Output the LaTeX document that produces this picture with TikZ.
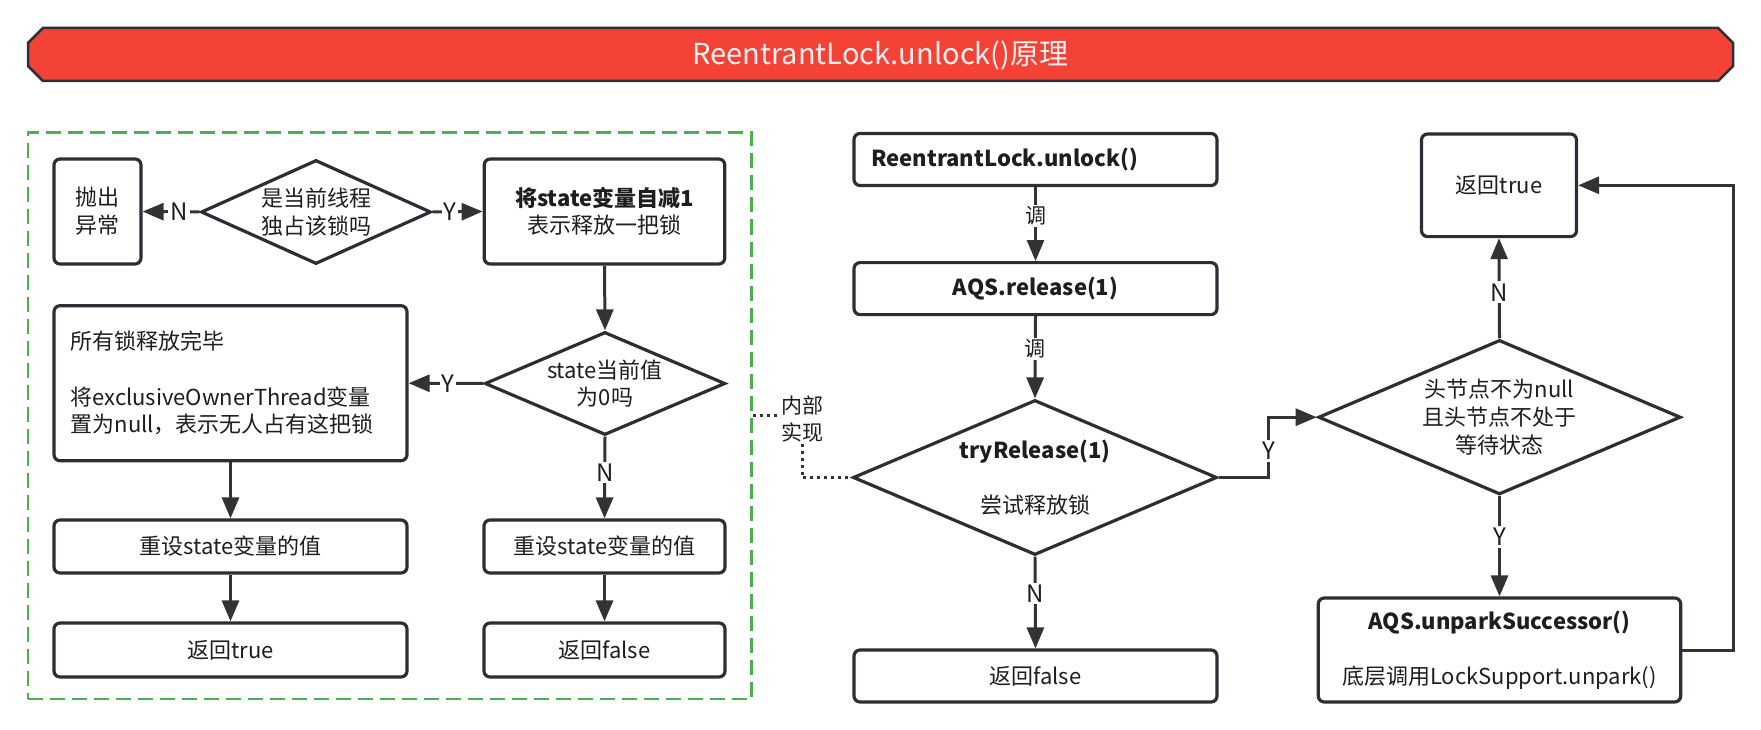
\documentclass[tikz,border=0pt]{standalone}
\usepackage{fontspec}
\setmainfont{Noto Sans CJK SC}
\usetikzlibrary{arrows.meta,shapes.geometric,calc}
\definecolor{bordc}{HTML}{2B2F35}
\definecolor{arrc}{HTML}{333333}
\definecolor{grn}{HTML}{4CAF50}
\definecolor{bannerred}{HTML}{F44336}
\definecolor{bannerline}{HTML}{263238}
\definecolor{txtc}{HTML}{1E1E1E}
\begin{document}
\begin{tikzpicture}[x=1pt,y=-1pt,
  every node/.style={font=\fontsize{22}{27.7}\selectfont, text=txtc},
  box/.style={draw=bordc, line width=3.2pt, rounded corners=6pt, fill=white, inner sep=0pt, align=center},
  dia/.style={diamond, draw=bordc, line width=3.2pt, fill=white, inner sep=0pt, align=center},
  conn/.style={draw=arrc, line width=3pt, -{Triangle[length=21pt,width=17pt]}},
  lab/.style={fill=white, inner sep=2pt, font=\fontsize{24}{26}\selectfont},
  cjklab/.style={fill=white, inner sep=2pt, font=\fontsize{21}{24}\selectfont},
  dotline/.style={draw=arrc, line width=3pt, dash pattern=on 3pt off 4pt},
  grpbox/.style={draw=grn, line width=2.5pt, dash pattern=on 15pt off 7pt},
  banner/.style={fill=bannerred, draw=bannerline, line width=2.5pt},
]
\useasboundingbox (0,0) rectangle (1761,730);

% title banner
\draw[banner] (43,28) -- (1718,28) -- (1733,43) -- (1733,66) -- (1718,81) -- (43,81) -- (28,66) -- (28,43) -- cycle;
\node[font=\fontsize{29}{32}\selectfont, text=white!95!black] (title) at (880.5,55) {ReentrantLock.unlock()原理};

% left group
\node[grpbox, minimum width=723.5pt, minimum height=566.3pt, inner sep=0pt] (grp) at (389.75,415.85) {};

\node[box, minimum width=87pt, minimum height=105pt] (throw) at (97.5,211.5) {抛出\\异常};
\node[dia, aspect=2.21, minimum width=230pt, minimum height=104pt] (d1) at (316,212) {是当前线程\\独占该锁吗};
\node[box, minimum width=240.6pt, minimum height=105pt] (dec) at (604.5,211.5) {\textbf{将state变量自减1}\\表示释放一把锁};
\node[dia, aspect=2.33, minimum width=240.5pt, minimum height=103pt] (d2) at (605,383.5) {state当前值\\为0吗};
\node[box, minimum width=353pt, minimum height=155pt] (big) at (230.5,383.2) {};
\node[anchor=west, align=left, inner sep=0pt] (bigtxt) at ([xshift=18pt]big.west) {所有锁释放完毕\\[27.7pt]将exclusiveOwnerThread变量\\置为null，表示无人占有这把锁};
\node[box, minimum width=353pt, minimum height=53pt] (resetL) at (230.5,546.5) {重设state变量的值};
\node[box, minimum width=353pt, minimum height=54pt] (retTL) at (230.5,650) {返回true};
\node[box, minimum width=241pt, minimum height=53pt] (resetR) at (604.5,546.5) {重设state变量的值};
\node[box, minimum width=241pt, minimum height=54pt] (retFL) at (604.5,650) {返回false};

\draw[conn] (d1.west) -- node[lab, pos=0.36]{N} (throw.east);
\draw[conn] (d1.east) -- node[lab, pos=0.35]{Y} (dec.west);
\draw[conn] (dec.south) -- (d2.north);
\draw[conn] (d2.west) -- node[lab, pos=0.47]{Y} (big.east);
\draw[conn] (d2.south) -- node[lab, pos=0.44]{N} (resetR.north);
\draw[conn] (big.south) -- (resetL.north);
\draw[conn] (resetL.south) -- (retTL.north);
\draw[conn] (resetR.south) -- (retFL.north);

% middle column
\node[box, minimum width=363pt, minimum height=52pt] (unlock) at (1035.5,159.5) {};
\node[anchor=west, inner sep=0pt] (unlocktxt) at ([xshift=18.7pt]unlock.west) {\textbf{ReentrantLock.unlock()}};
\node[box, minimum width=363pt, minimum height=52pt] (release) at (1035.5,288.6) {\textbf{AQS.release(1)}};
\node[dia, aspect=2.35, minimum width=364pt, minimum height=155pt] (try) at (1035,477.5) {\textbf{tryRelease(1)}\\[27.7pt]尝试释放锁};
\node[box, minimum width=363pt, minimum height=52pt] (retF) at (1035.5,676) {返回false};

\draw[conn] (unlock.south) -- node[cjklab, pos=0.39]{调} (release.north);
\draw[conn] (release.south) -- node[cjklab, pos=0.4]{调} (try.north);
\draw[conn] (try.south) -- node[lab, pos=0.4]{N} (retF.north);

\coordinate (dmid) at ($(grp.east)!0.5!(try.west)$);
\draw[dotline] (grp.east) -| node[pos=0.5, fill=white, inner sep=1pt, align=center, font=\fontsize{21}{27}\selectfont, yshift=-3pt]{内部\\实现} (dmid) |- (try.west);

% right column
\node[box, minimum width=155pt, minimum height=102.6pt] (retT) at (1499,185.3) {返回true};
\node[dia, aspect=2.35, minimum width=362.4pt, minimum height=154.5pt] (d3) at (1499.5,417.2) {头节点不为null\\且头节点不处于\\等待状态};
\node[box, minimum width=362.4pt, minimum height=104pt] (unpark) at (1499.5,650) {\textbf{AQS.unparkSuccessor()}\\[27.7pt]底层调用LockSupport.unpark()};

\draw[conn] (try.east) -- ++(50,0) |- node[lab, pos=0.22]{Y} (d3.west);
\draw[conn] (d3.north) -- node[lab, pos=0.46]{N} (retT.south);
\draw[conn] (d3.south) -- node[lab, pos=0.41]{Y} (unpark.north);
\draw[conn] (unpark.east) -- ++(51,0) |- (retT.east);
\end{tikzpicture}
\end{document}
